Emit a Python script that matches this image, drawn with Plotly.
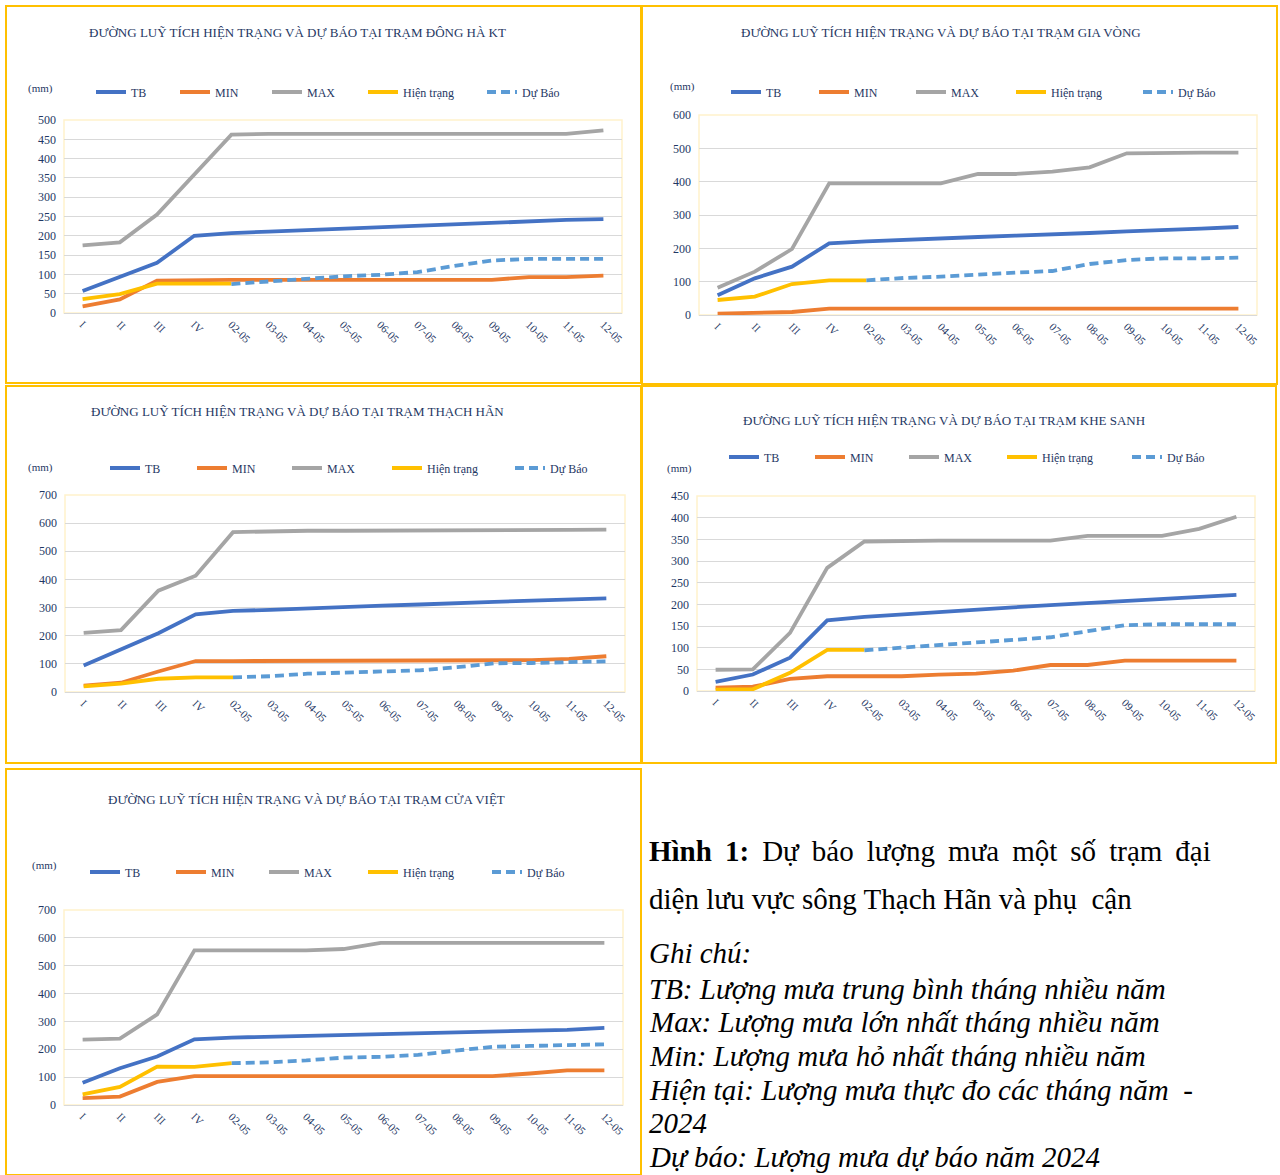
import plotly.graph_objects as go

W, H = 1280, 1175

CATS = ["I", "II", "III", "IV", "02-05", "03-05", "04-05", "05-05", "06-05",
        "07-05", "08-05", "09-05", "10-05", "11-05", "12-05"]

# ---- Đông Hà KT ----
DONGHA_TB = [57, 93, 130, 200, 207, 211, 215, 218, 222, 226, 229, 233, 237, 241, 243]
DONGHA_MIN = [17, 35, 84, 86, 86, 86, 86, 86, 86, 86, 86, 86, 93, 93, 97]
DONGHA_MAX = [175, 183, 255, 357, 462, 464, 464, 464, 464, 464, 464, 464, 464, 464, 473]
DONGHA_HT = [36, 49, 76, 76, 76] + [None] * 10
DONGHA_DB = [None] * 4 + [75, 82, 88, 95, 99, 106, 122, 136, 140, 140, 140]

# ---- Gia Vòng ----
GIAVONG_TB = [59, 110, 145, 215, 221, 226, 229, 234, 238, 241, 246, 251, 254, 259, 264]
GIAVONG_MIN = [4, 6, 9, 19, 19, 19, 19, 19, 19, 19, 19, 19, 19, 19, 19]
GIAVONG_MAX = [82, 130, 198, 395, 395, 395, 395, 423, 423, 430, 443, 485, 487, 487, 487]
GIAVONG_HT = [45, 55, 93, 104, 104] + [None] * 10
GIAVONG_DB = [None] * 4 + [104, 111, 115, 122, 127, 132, 153, 165, 170, 170, 172]

# ---- Thạch Hãn ----
THACHHAN_TB = [94, 150, 209, 276, 288, 292, 298, 302, 307, 311, 317, 320, 325, 328, 333]
THACHHAN_MIN = [23, 33, 73, 110, 110, 110, 110, 110, 110, 110, 110, 110, 113, 118, 127]
THACHHAN_MAX = [210, 220, 360, 413, 568, 572, 573, 573, 573, 574, 576, 576, 576, 576, 577]
THACHHAN_HT = [20, 30, 47, 52, 52] + [None] * 10
THACHHAN_DB = [None] * 4 + [52, 56, 65, 70, 73, 77, 88, 102, 103, 107, 109]

# ---- Khe Sanh ----
KHESANH_TB = [21, 38, 77, 163, 171, 177, 183, 187, 193, 198, 203, 208, 214, 218, 222]
KHESANH_MIN = [8, 10, 28, 34, 34, 34, 38, 40, 47, 60, 60, 70, 70, 70, 70]
KHESANH_MAX = [49, 50, 134, 284, 345, 347, 347, 347, 347, 347, 358, 358, 358, 374, 402]
KHESANH_HT = [3, 4, 42, 95, 95] + [None] * 10
KHESANH_DB = [None] * 4 + [94, 100, 106, 112, 119, 124, 138, 152, 154, 154, 154]

# ---- Cửa Việt ----
CUAVIET_TB = [80, 132, 174, 236, 242, 245, 248, 251, 255, 258, 261, 264, 267, 270, 277]
CUAVIET_MIN = [25, 30, 83, 104, 104, 104, 104, 104, 104, 104, 104, 104, 113, 124, 124]
CUAVIET_MAX = [235, 238, 325, 555, 555, 555, 555, 560, 582, 582, 582, 582, 582, 582, 582]
CUAVIET_HT = [38, 65, 138, 137, 150] + [None] * 10
CUAVIET_DB = [None] * 4 + [150, 153, 160, 170, 173, 180, 195, 209, 212, 215, 218]

TITLES = [
    "ĐƯỜNG LUỸ TÍCH HIỆN TRẠNG VÀ DỰ BÁO TẠI TRẠM ĐÔNG HÀ KT",
    "ĐƯỜNG LUỸ TÍCH HIỆN TRẠNG VÀ DỰ BÁO TẠI TRẠM GIA VÒNG",
    "ĐƯỜNG LUỸ TÍCH HIỆN TRẠNG VÀ DỰ BÁO TẠI TRẠM THẠCH HÃN",
    "ĐƯỜNG LUỸ TÍCH HIỆN TRẠNG VÀ DỰ BÁO TẠI TRẠM KHE SANH",
    "ĐƯỜNG LUỸ TÍCH HIỆN TRẠNG VÀ DỰ BÁO TẠI TRẠM CỬA VIỆT",
]
SERIES_NAMES = ["TB", "MIN", "MAX", "Hiện trạng", "Dự Báo"]
Y_MAX = [500, 600, 700, 450, 700]
Y_DTICK = [50, 100, 100, 50, 100]

DATA = [
    [DONGHA_TB, DONGHA_MIN, DONGHA_MAX, DONGHA_HT, DONGHA_DB],
    [GIAVONG_TB, GIAVONG_MIN, GIAVONG_MAX, GIAVONG_HT, GIAVONG_DB],
    [THACHHAN_TB, THACHHAN_MIN, THACHHAN_MAX, THACHHAN_HT, THACHHAN_DB],
    [KHESANH_TB, KHESANH_MIN, KHESANH_MAX, KHESANH_HT, KHESANH_DB],
    [CUAVIET_TB, CUAVIET_MIN, CUAVIET_MAX, CUAVIET_HT, CUAVIET_DB],
]

COLORS = ["#4472C4", "#ED7D31", "#A5A5A5", "#FFC000", "#5B9BD5"]
NAVY = "#1F3864"
FONT = "Liberation Serif"

# layout geometry in pixels
PANELS = [
    dict(border=(6, 6, 641, 383), plot=(64, 120, 622, 313), title=(297, 32),
         legend_y=92, legend_x=(96, 180, 272, 368, 487), mm=(40, 89)),
    dict(border=(642, 6, 1277, 384), plot=(699, 115, 1257, 315), title=(941, 33),
         legend_y=92, legend_x=(731, 819, 916, 1016, 1143), mm=(682, 87)),
    dict(border=(6, 386, 641, 763), plot=(65, 495, 625, 692), title=(297, 412),
         legend_y=468, legend_x=(110, 197, 292, 392, 515), mm=(40, 467)),
    dict(border=(642, 386, 1276, 763), plot=(697, 496, 1255, 691), title=(944, 420),
         legend_y=457, legend_x=(729, 815, 909, 1007, 1132), mm=(679, 468)),
    dict(border=(6, 769, 641, 1175), plot=(64, 910, 623, 1105), title=(306, 799),
         legend_y=872, legend_x=(90, 176, 269, 368, 492), mm=(44, 865)),
]


def px(x):
    return x / W


def py(y):
    return 1 - y / H


fig = go.Figure()
shapes = []
annotations = []
layout = {}

for i, (p, series) in enumerate(zip(PANELS, DATA), start=1):
    sfx = "" if i == 1 else str(i)
    for k, (name, vals) in enumerate(zip(SERIES_NAMES, series)):
        idx = (i - 1) * 5 + k + 1
        lg = "legend" if idx == 1 else f"legend{idx}"
        line = dict(color=COLORS[k], width=3.8)
        if k == 4:
            line["dash"] = "9px,5px"
        fig.add_trace(go.Scatter(
            x=CATS, y=vals, name=name, mode="lines", line=line,
            xaxis="x" + sfx, yaxis="y" + sfx, legend=lg,
            connectgaps=False, hoverinfo="skip"))
        layout[lg] = dict(
            orientation="h", x=px(p["legend_x"][k] - 5), y=py(p["legend_y"]),
            xanchor="left", yanchor="middle",
            font=dict(family=FONT, size=12, color=NAVY), bgcolor="rgba(0,0,0,0)",
            itemwidth=30)
    x0, y0, x1, y1 = p["plot"]
    layout["xaxis" + sfx] = dict(
        domain=[px(x0), px(x1)], anchor="y" + sfx, type="category",
        range=[-0.5, 14.5], tickangle=45, showgrid=False,
        showline=True, linecolor="#D9D9D9", linewidth=1, ticks="",
        tickfont=dict(family=FONT, size=11, color=NAVY), fixedrange=True)
    layout["yaxis" + sfx] = dict(
        domain=[py(y1), py(y0)], anchor="x" + sfx, range=[0, Y_MAX[i - 1]],
        dtick=Y_DTICK[i - 1], showgrid=True, gridcolor="#D9D9D9", gridwidth=1,
        zeroline=False, showline=False, ticks="", ticklabelstandoff=7,
        tickfont=dict(family=FONT, size=12, color=NAVY), fixedrange=True)
    # plot area border (pale)
    shapes.append(dict(type="rect", xref="paper", yref="paper",
                       x0=px(x0), x1=px(x1), y0=py(y1), y1=py(y0),
                       line=dict(color="#FFF2CC", width=1.5), layer="below"))
    # panel border
    bx0, by0, bx1, by1 = p["border"]
    shapes.append(dict(type="rect", xref="paper", yref="paper",
                       x0=px(bx0), x1=px(bx1), y0=py(by1), y1=py(by0),
                       line=dict(color="#FFC000", width=2), layer="above"))
    tx, ty = p["title"]
    annotations.append(dict(text=TITLES[i - 1], x=px(tx), y=py(ty), xref="paper", yref="paper",
                            showarrow=False, xanchor="center", yanchor="middle",
                            font=dict(family=FONT, size=13, color=NAVY)))
    mx, my = p["mm"]
    annotations.append(dict(text="(mm)", x=px(mx), y=py(my), xref="paper", yref="paper",
                            showarrow=False, xanchor="center", yanchor="middle",
                            font=dict(family=FONT, size=11, color=NAVY)))

# caption / notes block
TS = " \u2009"  # widened word gap for the justified first line
CAPTION = [
    ("<b>Hình" + TS + "1:</b>" + TS + TS.join("Dự báo lượng mưa một số trạm đại".split(" ")), 851),
    ("diện lưu vực sông Thạch Hãn và phụ \u00a0cận", 899),
    ("<i>Ghi chú:</i>", 953),
    ("<i>TB: Lượng mưa trung bình tháng nhiều năm</i>", 989),
    ("<i>Max: Lượng mưa lớn nhất tháng nhiều năm</i>", 1022),
    ("<i>Min: Lượng mưa hỏ nhất tháng nhiều năm</i>", 1056),
    ("<i>Hiện tại: Lượng mưa thực đo các tháng năm \u00a0-</i>", 1090),
    ("<i>2024</i>", 1123),
    ("<i>Dự báo: Lượng mưa dự báo năm 2024</i>", 1157),
]
for text, y in CAPTION:
    annotations.append(dict(text=text, x=px(647), y=py(y), xref="paper", yref="paper",
                            showarrow=False, xanchor="left", yanchor="middle",
                            font=dict(family=FONT, size=29, color="#000000")))

fig.update_layout(
    width=W, height=H, margin=dict(l=0, r=0, t=0, b=0, autoexpand=False),
    paper_bgcolor="white", plot_bgcolor="white",
    showlegend=True, shapes=shapes, annotations=annotations, **layout)

fig.write_html("out.html", config={"displayModeBar": False})
